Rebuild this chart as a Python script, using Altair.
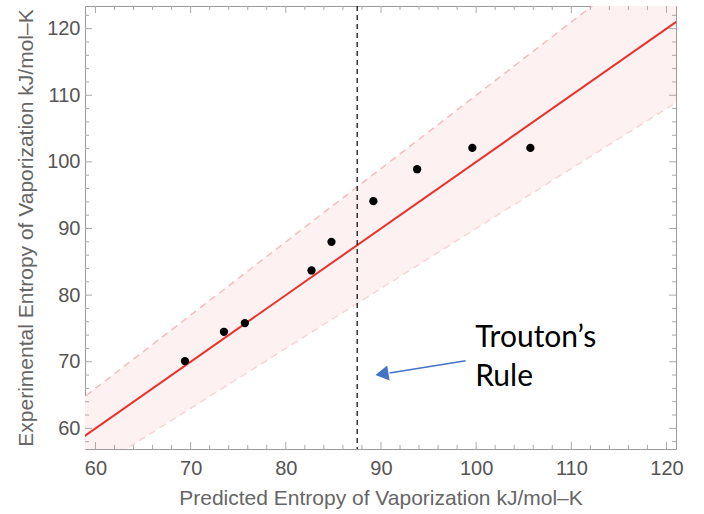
import altair as alt
import pandas as pd

# ---- data ----
pred = [69.4, 73.5, 75.7, 82.7, 84.8, 89.2, 93.8, 99.6, 105.7]
expt = [70.1, 74.5, 75.8, 83.7, 88.0, 94.1, 98.9, 102.1, 102.1]
fit_x = [55.0, 125.0]          # y = x identity line endpoints
band_lo, band_hi = 0.9, 1.1    # +/-10 % band
trouton = [87.5]
note_text = ["Trouton\u2019s\nRule"]
note_x, note_y = [99.9], [72.25]
arrow_tail = (98.9, 70.15)
arrow_base = (90.9, 68.3)
arrow_head = (90.1, 68.15)

x_major = [60, 70, 80, 90, 100, 110, 120]
x_minor = [62, 64, 66, 68, 72, 74, 76, 78, 82, 84, 86, 88, 92, 94, 96, 98,
           102, 104, 106, 108, 112, 114, 116, 118]
y_major = [60, 70, 80, 90, 100, 110, 120]
y_minor = [58, 62, 64, 66, 68, 72, 74, 76, 78, 82, 84, 86, 88, 92, 94, 96, 98,
           102, 104, 106, 108, 112, 114, 116, 118, 122]

X_DOM = [58.9, 121.0]
Y_DOM = [56.9, 123.4]
W, H = 591, 443

xs = alt.Scale(domain=X_DOM, nice=False, zero=False)
ys = alt.Scale(domain=Y_DOM, nice=False, zero=False)

FONT = "Liberation Sans"

x_axis = alt.Axis(
    title="Predicted Entropy of Vaporization kJ/mol\u2013K",
    values=x_major, labelFont=FONT, labelFontSize=20, labelColor="#555555",
    titleFont=FONT, titleFontSize=21, titleColor="#666666", titleFontWeight="normal",
    labelPadding=9, titlePadding=9, ticks=False, domain=False, grid=False,
)
y_axis = alt.Axis(
    title="Experimental Entropy of Vaporization kJ/mol\u2013K",
    values=y_major, labelFont=FONT, labelFontSize=20, labelColor="#555555",
    titleFont=FONT, titleFontSize=21, titleColor="#666666", titleFontWeight="normal",
    labelPadding=5, titlePadding=10, ticks=False, domain=False, grid=False,
)

def X(f):
    return alt.X(f, scale=xs, axis=x_axis)

def Y(f):
    return alt.Y(f, scale=ys, axis=y_axis)

line_df = pd.DataFrame({"x": fit_x})
base_line = alt.Chart(line_df).transform_calculate(
    y="datum.x", lo=f"datum.x*{band_lo}", hi=f"datum.x*{band_hi}"
)

band = base_line.mark_area(color="#FEF1F1", clip=True).encode(
    x=X("x:Q"), y=Y("lo:Q"), y2="hi:Q",
)
upper = base_line.mark_line(color="#F5BDBD", strokeDash=[7, 5], strokeWidth=1.5, clip=True).encode(
    x=X("x:Q"), y=Y("hi:Q")
)
lower = base_line.mark_line(color="#F8D6D6", strokeDash=[7, 5], strokeWidth=1.5, clip=True).encode(
    x=X("x:Q"), y=Y("lo:Q")
)
ident = base_line.mark_line(color="#E8332B", strokeWidth=2, clip=True).encode(
    x=X("x:Q"), y=Y("y:Q")
)

vline = alt.Chart(pd.DataFrame({"x": trouton})).mark_rule(
    color="black", strokeDash=[5, 4], strokeWidth=1.2
).encode(x=X("x:Q"))

pts = alt.Chart(pd.DataFrame({"pred": pred, "expt": expt})).mark_circle(
    size=68, color="black", opacity=1
).encode(x=X("pred:Q"), y=Y("expt:Q"))

arrow_df = pd.DataFrame({"x1": [arrow_tail[0]], "y1": [arrow_tail[1]],
                         "x2": [arrow_base[0]], "y2": [arrow_base[1]]})
arrow_line = alt.Chart(arrow_df).mark_rule(color="#4472C4", strokeWidth=1.5).encode(
    x=X("x1:Q"), y=Y("y1:Q"), x2="x2:Q", y2="y2:Q",
)
head = alt.Chart(pd.DataFrame({"x": [arrow_head[0]], "y": [arrow_head[1]]})).mark_point(
    shape="triangle-left", filled=True, size=230, angle=351, color="#4472C4", opacity=1
).encode(x=X("x:Q"), y=Y("y:Q"))

note = alt.Chart(pd.DataFrame({"x": note_x, "y": note_y, "t": note_text})).mark_text(
    align="left", baseline="alphabetic", font="Lato", fontSize=30, lineHeight=39,
    lineBreak="\n", color="black"
).encode(x=X("x:Q"), y=Y("y:Q"), text="t:N")

TICK = "#AAAAAA"
def xticks(vals, length):
    d = alt.Chart(pd.DataFrame({"v": vals}))
    b = d.mark_rule(color=TICK, strokeWidth=1).encode(
        x=X("v:Q"), y=alt.value(H), y2=alt.value(H - length))
    t = d.mark_rule(color=TICK, strokeWidth=1).encode(
        x=X("v:Q"), y=alt.value(0), y2=alt.value(length))
    return b + t

def yticks(vals, length):
    d = alt.Chart(pd.DataFrame({"v": vals}))
    l = d.mark_rule(color=TICK, strokeWidth=1).encode(
        y=Y("v:Q"), x=alt.value(0), x2=alt.value(length))
    r = d.mark_rule(color=TICK, strokeWidth=1).encode(
        y=Y("v:Q"), x=alt.value(W), x2=alt.value(W - length))
    return l + r

chart = alt.layer(
    band, upper, lower, ident,
    xticks(x_major, 7), xticks(x_minor, 4), yticks(y_major, 7), yticks(y_minor, 4),
    vline, pts, arrow_line, head, note,
).properties(
    width=W, height=H,
    autosize=alt.AutoSizeParams(type="none"),
    padding={"left": 85, "top": 6, "right": 28, "bottom": 65},
    background="white",
).configure_view(stroke="#9A9A9A", strokeWidth=1)

chart.save("out.html", embed_options={"renderer": "svg", "actions": False})
